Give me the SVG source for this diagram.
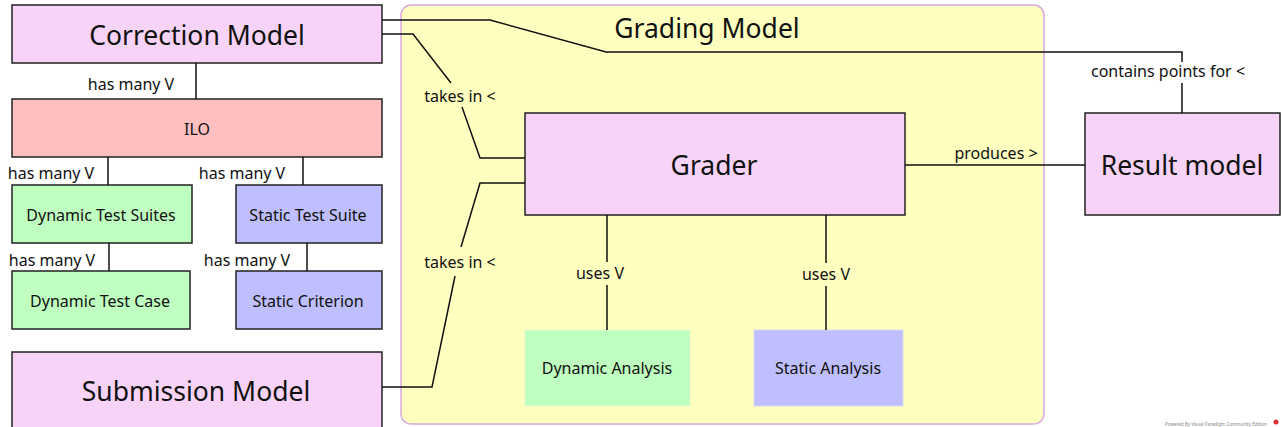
<svg xmlns="http://www.w3.org/2000/svg" width="1281" height="427" viewBox="0 0 1281 427">
<style>
text{font-family:"Noto Sans","DejaVu Sans",sans-serif;fill:#111;text-anchor:middle;dominant-baseline:central}
.pink{fill:#f7d4f7;stroke:#222;stroke-width:1.5}
.red{fill:#ffbfbf;stroke:#222;stroke-width:1.5}
.green{fill:#bfffbf;stroke:#222;stroke-width:1.5}
.blue{fill:#bfbfff;stroke:#222;stroke-width:1.5}
.greenf{fill:#bfffbf;stroke:#e4f7c8;stroke-width:1}
.bluef{fill:#bfbfff;stroke:#d8d8f0;stroke-width:1}
.big{font-size:26.5px}
.sm{font-size:16px}
.lbl{font-size:16px}
.conn path{fill:none;stroke:#111;stroke-width:1.5}
</style>
<rect width="1281" height="427" fill="#fff"/>
<g id="grading-model">
<rect x="401" y="5" width="643" height="419" rx="10" fill="#ffffc0" stroke="#d8a8e0" stroke-width="1.5"/>
<text x="707" y="28" class="big">Grading Model</text>
</g>
<g id="correction-model"><rect class="pink" x="12" y="5" width="370" height="58"/><text x="197" y="35" class="big">Correction Model</text></g>
<g id="ilo"><rect class="red" x="12" y="99" width="370" height="58"/><text x="197" y="129" class="sm">ILO</text></g>
<g id="dynamic-test-suites"><rect class="green" x="12" y="185" width="180" height="58"/><text x="101" y="215" class="sm">Dynamic Test Suites</text></g>
<g id="static-test-suite"><rect class="blue" x="236" y="185" width="146" height="58"/><text x="308" y="215" class="sm">Static Test Suite</text></g>
<g id="dynamic-test-case"><rect class="green" x="12" y="271" width="178" height="58"/><text x="100" y="301" class="sm">Dynamic Test Case</text></g>
<g id="static-criterion"><rect class="blue" x="236" y="271" width="146" height="58"/><text x="308" y="301" class="sm">Static Criterion</text></g>
<g id="submission-model"><rect class="pink" x="12" y="352" width="370" height="80"/><text x="196" y="391" class="big">Submission Model</text></g>
<g id="grader"><rect class="pink" x="525" y="113" width="380" height="102"/><text x="714" y="165" class="big">Grader</text></g>
<g id="result-model"><rect class="pink" x="1085" y="113" width="195" height="102"/><text x="1182" y="165" class="big">Result model</text></g>
<g id="dynamic-analysis"><rect class="greenf" x="525" y="330" width="165" height="76"/><text x="607" y="368" class="sm">Dynamic Analysis</text></g>
<g id="static-analysis"><rect class="bluef" x="754" y="330" width="149" height="76"/><text x="828" y="368" class="sm">Static Analysis</text></g>
<g id="connectors" class="conn">
<path d="M196 63V99"/>
<path d="M108 157V185"/>
<path d="M303 157V185"/>
<path d="M109 243V271"/>
<path d="M307 243V271"/>
<path d="M382 20H490L606 52H1182V62M1182 83V113"/>
<path d="M382 34H413L451 83M462 107L480 158H525"/>
<path d="M382 387H432L455 276M461 247L480 183H525"/>
<path d="M905 165H1085"/>
<path d="M607 215V262M607 285V330"/>
<path d="M826 215V263M826 286V330"/>
</g>
<g id="labels" class="lbl">
<text x="131" y="84">has many V</text>
<text x="51" y="173">has many V</text>
<text x="242" y="173">has many V</text>
<text x="52" y="260">has many V</text>
<text x="247" y="260">has many V</text>
<text x="1168" y="71">contains points for &lt;</text>
<text x="460" y="96">takes in &lt;</text>
<text x="460" y="262">takes in &lt;</text>
<text x="996" y="153">produces &gt;</text>
<text x="600" y="273">uses V</text>
<text x="826" y="274">uses V</text>
</g>
<g id="watermark">
<text x="1216" y="424" style="font-size:4.5px;fill:#888">Powered By Visual Paradigm Community Edition</text>
<circle cx="1276" cy="422" r="2.5" fill="#e03030"/>
</g>
</svg>
